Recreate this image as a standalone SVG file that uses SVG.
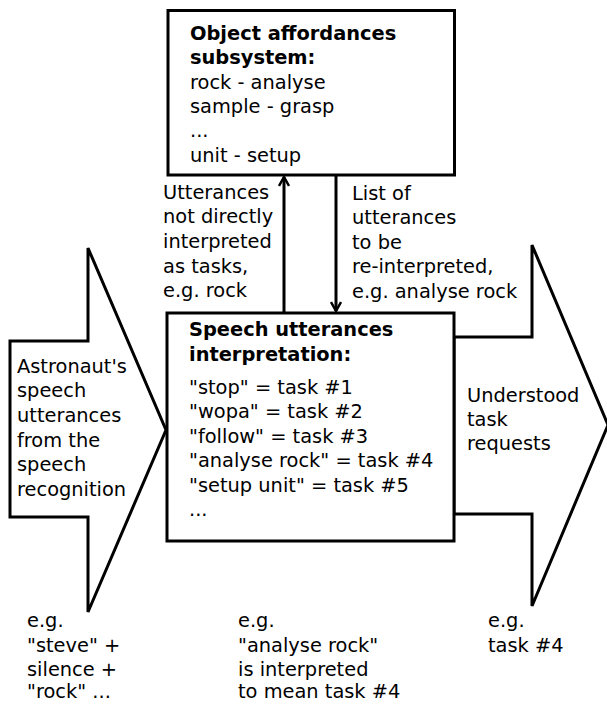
<svg xmlns="http://www.w3.org/2000/svg" width="607" height="704" viewBox="0 0 607 704">
<style>
text{font-family:"DejaVu Sans",sans-serif;font-size:19.4px;fill:#000}
.b{font-weight:bold}
.shape{fill:#fff;stroke:#000;stroke-width:3}
.conn{stroke:#000;stroke-width:3;fill:none}
</style>
<defs>
<marker id="ah" viewBox="0 0 12 12" refX="10" refY="6" markerWidth="12" markerHeight="12" markerUnits="userSpaceOnUse" orient="auto">
<path d="M1,1 L10,6 L1,11" fill="none" stroke="#000" stroke-width="2.5"/>
</marker>
</defs>
<rect width="607" height="704" fill="#fff"/>
<g id="input-arrow">
<polygon class="shape" points="10,341 88,341 88,248 166,430 88,612 88,517 10,517"/>
<text x="17" y="373">Astronaut's</text>
<text x="17" y="397">speech</text>
<text x="17" y="422">utterances</text>
<text x="17" y="447">from the</text>
<text x="17" y="471">speech</text>
<text x="17" y="496">recognition</text>
</g>
<g id="output-arrow">
<polygon class="shape" points="454,337 532,337 532,245 608,425 532,606 532,514 454,514"/>
<text x="467" y="402">Understood</text>
<text x="467" y="426">task</text>
<text x="467" y="450">requests</text>
</g>
<g id="affordances">
<rect class="shape" x="168" y="10.5" width="286.5" height="164.5"/>
<text class="b" x="190" y="40">Object affordances</text>
<text class="b" x="190" y="64">subsystem:</text>
<text x="190" y="88.5">rock - analyse</text>
<text x="190" y="113">sample - grasp</text>
<text x="190" y="137">...</text>
<text x="190" y="162">unit - setup</text>
</g>
<g id="interpretation">
<rect class="shape" x="167" y="313" width="287" height="228"/>
<text class="b" x="189" y="336">Speech utterances</text>
<text class="b" x="189" y="361">interpretation:</text>
<text x="189" y="394">"stop" = task #1</text>
<text x="189" y="418">"wopa" = task #2</text>
<text x="189" y="443">"follow" = task #3</text>
<text x="189" y="467">"analyse rock" = task #4</text>
<text x="189" y="492">"setup unit" = task #5</text>
<text x="189" y="516">...</text>
</g>
<g id="connectors">
<line class="conn" x1="284" y1="312" x2="284" y2="177" marker-end="url(#ah)"/>
<line class="conn" x1="336" y1="176" x2="336" y2="311" marker-end="url(#ah)"/>
</g>
<g id="labels">
<text x="163" y="199">Utterances</text>
<text x="163" y="223">not directly</text>
<text x="163" y="248">interpreted</text>
<text x="163" y="273">as tasks,</text>
<text x="163" y="297">e.g. rock</text>
<text x="352" y="200">List of</text>
<text x="352" y="224">utterances</text>
<text x="352" y="249">to be</text>
<text x="352" y="273">re-interpreted,</text>
<text x="352" y="298">e.g. analyse rock</text>
<text x="27" y="627">e.g.</text>
<text x="27" y="652">"steve" +</text>
<text x="27" y="676">silence +</text>
<text x="27" y="698">"rock" ...</text>
<text x="238" y="627">e.g.</text>
<text x="238" y="652">"analyse rock"</text>
<text x="238" y="676">is interpreted</text>
<text x="238" y="698">to mean task #4</text>
<text x="488" y="627">e.g.</text>
<text x="488" y="652">task #4</text>
</g>
</svg>
